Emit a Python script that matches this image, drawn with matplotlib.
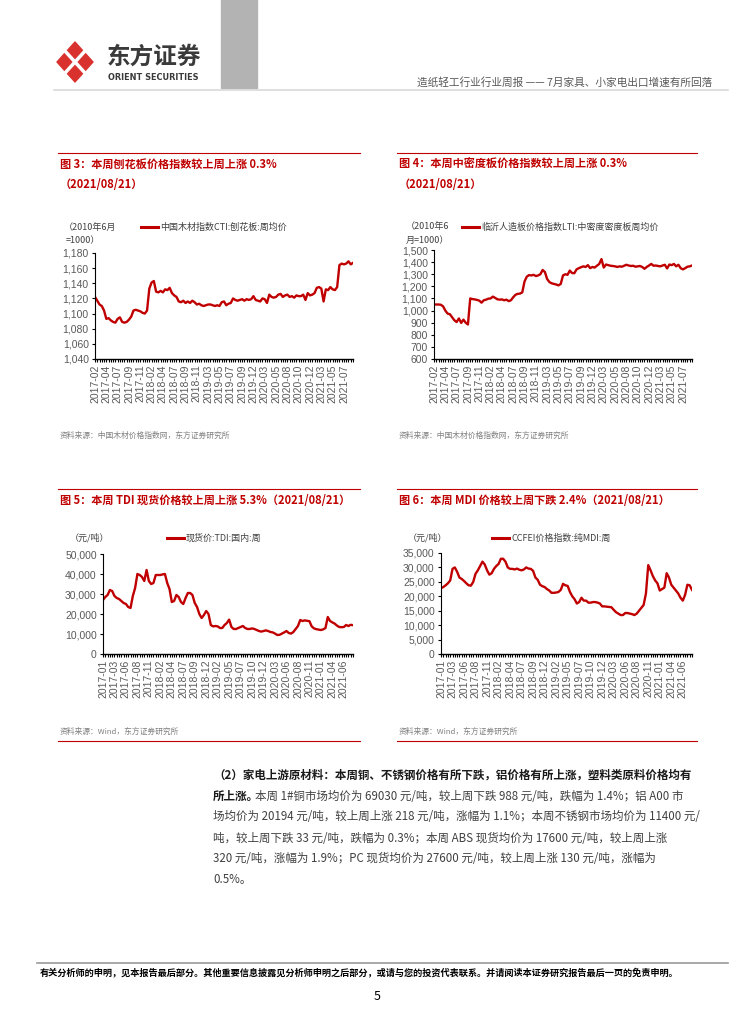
import numpy as np
import matplotlib
matplotlib.use("Agg")
import matplotlib.pyplot as plt
from matplotlib.patches import Polygon, Rectangle

plt.rcParams['font.family'] = ['Noto Sans CJK SC', 'DejaVu Sans']

# 图3 刨花板价格指数（两周一个点，2017-02 起）
cti_labels = ['2017-02', '2017-04', '2017-07', '2017-09', '2017-11', '2018-02', '2018-04',
              '2018-07', '2018-09', '2018-11', '2019-03', '2019-05', '2019-07', '2019-09',
              '2019-12', '2020-03', '2020-05', '2020-08', '2020-10', '2020-12', '2021-03',
              '2021-05', '2021-07']
cti_particle = [1122, 1117, 1112, 1110, 1104, 1093, 1094, 1091, 1089, 1088,
                1093, 1095, 1089, 1088, 1089, 1092, 1096, 1104, 1105, 1104,
                1103, 1101, 1100, 1104, 1133, 1141, 1143, 1129, 1128, 1130,
                1128, 1132, 1131, 1134, 1127, 1124, 1122, 1116, 1115, 1117,
                1114, 1116, 1114, 1117, 1115, 1112, 1113, 1111, 1110, 1111,
                1112, 1112, 1111, 1110, 1111, 1110, 1115, 1116, 1111, 1113,
                1114, 1120, 1118, 1117, 1118, 1119, 1117, 1119, 1118, 1119,
                1123, 1118, 1117, 1116, 1120, 1119, 1114, 1125, 1122, 1121,
                1122, 1125, 1126, 1122, 1124, 1125, 1122, 1123, 1121, 1124,
                1123, 1123, 1125, 1118, 1127, 1124, 1125, 1127, 1134, 1135,
                1133, 1116, 1132, 1131, 1135, 1132, 1131, 1135, 1164, 1166,
                1165, 1166, 1169, 1165, 1167]

# 图4 中密度板价格指数
lti_mdf = [1050, 1050, 1050, 1048, 1035, 1000, 975, 970, 945, 920,
           905, 935, 898, 925, 900, 885, 1100, 1095, 1092, 1088,
           1082, 1065, 1085, 1090, 1098, 1100, 1115, 1105, 1093, 1090,
           1092, 1085, 1090, 1078, 1085, 1110, 1130, 1138, 1140, 1150,
           1240, 1280, 1293, 1290, 1295, 1285, 1290, 1300, 1335, 1318,
           1260, 1235, 1225, 1220, 1215, 1208, 1220, 1290, 1300, 1295,
           1330, 1310, 1308, 1340, 1350, 1358, 1365, 1360, 1375, 1350,
           1360, 1355, 1370, 1385, 1425, 1355, 1380, 1375, 1370, 1368,
           1365, 1360, 1365, 1362, 1370, 1378, 1372, 1368, 1370, 1362,
           1365, 1368, 1360, 1345, 1360, 1372, 1385, 1370, 1372, 1368,
           1365, 1372, 1378, 1348, 1380, 1375, 1385, 1365, 1378, 1350,
           1340, 1350, 1362, 1365, 1372]

# 图5/图6 TDI、MDI 价格（元/吨，2017-01 起）
wind_labels = ['2017-01', '2017-03', '2017-06', '2017-08', '2017-11', '2018-02', '2018-04',
               '2018-07', '2018-09', '2018-12', '2019-02', '2019-05', '2019-07', '2019-10',
               '2019-12', '2020-03', '2020-06', '2020-08', '2020-11', '2021-01', '2021-04',
               '2021-06']
tdi = [27000, 28500, 29500, 32000, 31500, 29000, 28000, 27500, 26500, 25500,
       25000, 23500, 23000, 29000, 33000, 40000, 39500, 38500, 36500, 42000,
       36500, 35000, 35500, 39500, 39500, 39500, 39800, 40000, 35500, 32500,
       26000, 26500, 29500, 28500, 26000, 25000, 28000, 30500, 30500, 29500,
       25500, 23500, 20000, 18000, 19500, 21500, 20000, 14500, 13800, 14000,
       13800, 13000, 13000, 14500, 15500, 17200, 13500, 12500, 12500, 13000,
       13500, 14000, 13000, 12500, 12500, 12800, 12500, 12000, 11500, 11200,
       11500, 11800, 11500, 11000, 10800, 10200, 9500, 9600, 10200, 10800,
       11500, 10500, 10200, 11000, 12500, 14000, 17000, 16500, 16800, 16600,
       16400, 13800, 12800, 12400, 12200, 12000, 12300, 13000, 18500, 16500,
       15800, 15200, 14200, 13500, 13400, 13500, 14500, 14000, 14600, 14400]
mdi = [22800, 23200, 23800, 24500, 25500, 29500, 30000, 28500, 26500, 26000,
       25300, 24500, 23800, 23700, 25000, 27800, 29000, 30500, 32000, 31000,
       29000, 27500, 28000, 29500, 30500, 31200, 33000, 33000, 32000, 30000,
       29500, 29500, 29300, 29600, 29200, 29000, 29300, 30000, 29600, 29500,
       28800, 26500, 25700, 24000, 23500, 23200, 22500, 22000, 21200, 21200,
       21300, 21500, 22200, 24300, 23800, 23600, 21500, 20000, 19000, 17500,
       18000, 19500, 18500, 18500, 17800, 17800, 18000, 18000, 17800, 17500,
       16500, 16500, 16400, 16300, 16200, 15300, 14500, 14000, 13500, 13500,
       14200, 14200, 14000, 13800, 13500, 14000, 15000, 16000, 17000, 21000,
       30800, 29000, 27000, 25500, 24500, 22000, 22500, 23000, 28000, 26500,
       24000, 23000, 22000, 21000, 19500, 18500, 20500, 24000, 23800, 22200]

W, H = 754, 1024
RED = '#C00000'
LINE = '#C00000'
GREY = '#7f7f7f'
NUMFONT = ['Liberation Sans', 'DejaVu Sans']

fig = plt.figure(figsize=(W / 100, H / 100), dpi=100)
bg = fig.add_axes([0, 0, 1, 1])
bg.set_xlim(0, W)
bg.set_ylim(H, 0)
bg.axis('off')

# 页眉
bg.add_patch(Polygon([(57, 62), (75, 42), (93, 62), (75, 82)], closed=True,
                     color='#D9322E', joinstyle='round'))
bg.plot([65, 85], [51, 73], color='white', lw=2.5, solid_capstyle='butt')
bg.plot([85, 65], [51, 73], color='white', lw=2.5, solid_capstyle='butt')
bg.text(107, 57, '东方证券', fontsize=17, fontweight='bold', color='#3a3a3a', va='center')
bg.text(108, 77, 'ORIENT SECURITIES', fontsize=5.9, fontweight='bold', color='#3a3a3a',
        va='center', family='DejaVu Sans')
bg.add_patch(Rectangle((221, 0), 36, 88, color='#b3b3b3'))
bg.plot([54, 728], [89.5, 89.5], color='#d9d9d9', lw=1.2)
bg.text(712, 82, '造纸轻工行业行业周报 —— 7月家具、小家电出口增速有所回落', fontsize=7.7,
        color='#595959', ha='right', va='center')


def panel(rect, values, labels, ylim, yticks):
    l, t, r, b = rect
    ax = fig.add_axes([l / W, 1 - b / H, (r - l) / W, (b - t) / H])
    x = np.arange(len(values))
    ax.plot(x, values, color=LINE, lw=1.7)
    ax.set_xlim(0, len(values) - 1)
    ax.set_ylim(*ylim)
    ax.set_yticks(yticks)
    ax.set_yticklabels([f'{v:,}' for v in yticks], fontsize=7.5, color='#595959',
                       family=NUMFONT)
    ax.set_xticks(x)
    ax.set_xticklabels([labels[i // 5] if i % 5 == 0 and i // 5 < len(labels) else ''
                        for i in x], rotation=90, fontsize=7.5, color='#595959',
                       family=NUMFONT)
    ax.tick_params(axis='x', length=2.5, width=0.8, pad=1.5)
    ax.tick_params(axis='y', length=2.5, width=0.8, pad=2)
    for s in ['top', 'right']:
        ax.spines[s].set_visible(False)
    ax.spines['left'].set_linewidth(0.8)
    ax.spines['bottom'].set_linewidth(1.0)
    ax.set_facecolor('none')
    return ax


def title_block(x0, x1, y_line, lines):
    bg.plot([x0, x1], [y_line, y_line], color=RED, lw=0.8)
    for txt, y in lines:
        bg.text(x0 + 2, y, txt, fontsize=8, fontweight='bold', color=RED, va='center')


def legend_key(x0, y, label):
    bg.plot([x0, x0 + 17], [y, y], color=LINE, lw=2.2)
    bg.text(x0 + 19, y, label, fontsize=6.5, color='#404040', va='center')


# 图3
title_block(58, 360, 153, [('图 3：本周刨花板价格指数较上周上涨 0.3%', 164), ('（2021/08/21）', 184)])
bg.text(64, 227, '（2010年6月', fontsize=6.5, color='#404040', va='center')
bg.text(66, 241, '=1000）', fontsize=6.5, color='#404040', va='center')
legend_key(141, 227, '中国木材指数CTI:刨花板:周均价')
panel((95, 253, 353, 359), cti_particle, cti_labels, (1040, 1180), list(range(1040, 1181, 20)))
bg.text(60, 436, '资料来源：中国木材价格指数网，东方证券研究所', fontsize=5.6, color=GREY, va='center')

# 图4
title_block(397, 697, 153, [('图 4：本周中密度板价格指数较上周上涨 0.3%', 164), ('（2021/08/21）', 184)])
bg.text(406, 227, '（2010年6', fontsize=6.5, color='#404040', va='center')
bg.text(406, 240, '月=1000）', fontsize=6.5, color='#404040', va='center')
legend_key(462, 227, '临沂人造板价格指数LTI:中密度密度板周均价')
panel((434, 250, 692, 359), lti_mdf, cti_labels, (600, 1500), list(range(600, 1501, 100)))
bg.text(399, 436, '资料来源：中国木材价格指数网，东方证券研究所', fontsize=5.6, color=GREY, va='center')

# 图5
title_block(58, 360, 489, [('图 5：本周 TDI 现货价格较上周上涨 5.3%（2021/08/21）', 500)])
bg.text(70, 538, '（元/吨）', fontsize=6.5, color='#404040', va='center')
legend_key(167, 538, '现货价:TDI:国内:周')
panel((103, 554, 353, 654), tdi, wind_labels, (0, 50000), list(range(0, 50001, 10000)))
bg.text(60, 732, '资料来源：Wind，东方证券研究所', fontsize=5.6, color=GREY, va='center')
bg.plot([58, 360], [741, 741], color=RED, lw=0.8)

# 图6
title_block(397, 697, 489, [('图 6：本周 MDI 价格较上周下跌 2.4%（2021/08/21）', 500)])
bg.text(408, 538, '（元/吨）', fontsize=6.5, color='#404040', va='center')
legend_key(492, 538, 'CCFEI价格指数:纯MDI:周')
panel((441, 553, 692, 654), mdi, wind_labels, (0, 35000), list(range(0, 35001, 5000)))
bg.text(399, 732, '资料来源：Wind，东方证券研究所', fontsize=5.6, color=GREY, va='center')
bg.plot([397, 697], [741, 741], color=RED, lw=0.8)

# 正文
body = ['场均价为 20194 元/吨，较上周上涨 218 元/吨，涨幅为 1.1%；本周不锈钢市场均价为 11400 元/',
        '吨，较上周下跌 33 元/吨，跌幅为 0.3%；本周 ABS 现货均价为 17600 元/吨，较上周上涨',
        '320 元/吨，涨幅为 1.9%；PC 现货均价为 27600 元/吨，较上周上涨 130 元/吨，涨幅为',
        '0.5%。']
bg.text(213, 775, '（2）家电上游原材料：本周铜、不锈钢价格有所下跌，铝价格有所上涨，塑料类原料价格均有',
        fontsize=8.3, fontweight='bold', color='#1a1a1a', va='center')
lead = bg.text(213, 796, '所上涨。', fontsize=8.3, fontweight='bold', color='#1a1a1a', va='center')
fig.canvas.draw()
ext = lead.get_window_extent(fig.canvas.get_renderer())
x_after = ext.x1 - 4
bg.text(x_after, 796, '本周 1#铜市场均价为 69030 元/吨，较上周下跌 988 元/吨，跌幅为 1.4%；铝 A00 市',
        fontsize=8.3, color='#404040', va='center')
for k, line in enumerate(body):
    bg.text(213, 817 + k * 21, line, fontsize=8.3, color='#404040', va='center')

# 页脚
bg.plot([37, 728], [963, 963], color='#999999', lw=1.2)
bg.text(40, 972, '有关分析师的申明，见本报告最后部分。其他重要信息披露见分析师申明之后部分，或请与您的投资代表联系。'
        '并请阅读本证券研究报告最后一页的免责申明。', fontsize=6.6, fontweight='bold', color='black', va='center')
bg.text(377, 996, '5', fontsize=9, color='black', ha='center', va='center')

fig.savefig('out.png', dpi=100)
